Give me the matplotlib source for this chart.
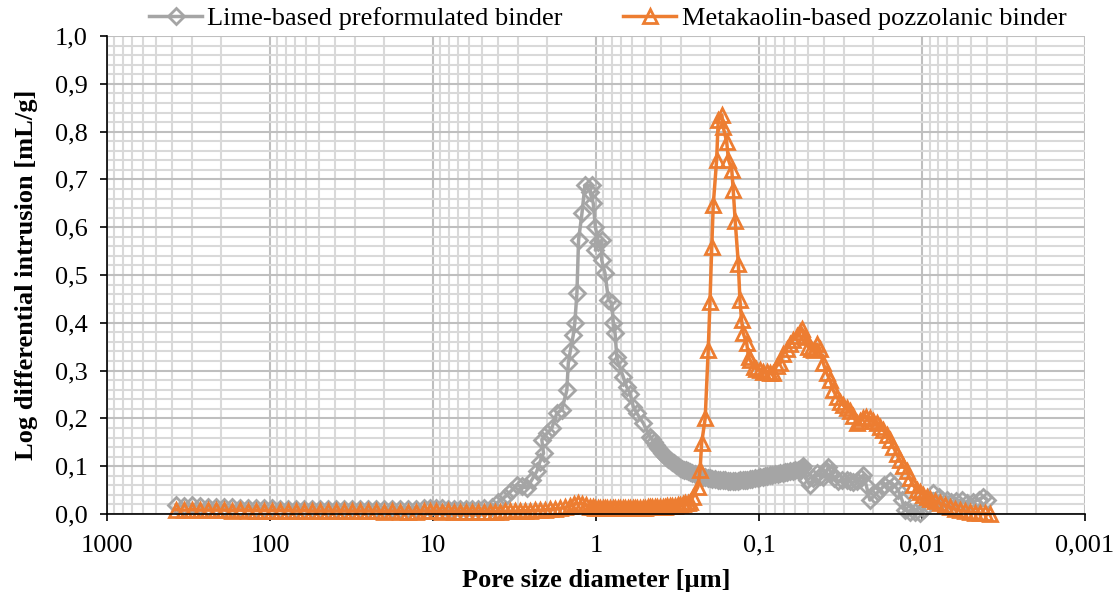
import matplotlib
matplotlib.use('Agg')
import matplotlib.pyplot as plt
from matplotlib.ticker import LogLocator, FixedLocator, NullFormatter

plt.rcParams['font.family'] = ['Liberation Serif', 'DejaVu Serif']

# Lime-based preformulated binder: pore diameter [um] and log differential intrusion [mL/g]
lime_d = [377, 337, 301, 269, 240, 214, 191, 171, 153, 136, 122, 109, 97.2, 86.8, 77.6, 69.2,
          61.8, 55.2, 49.3, 44.0, 39.4, 35.2, 31.4, 28.1, 25.1, 22.4, 20.0, 17.9, 15.9, 14.2,
          12.7, 11.4, 10.4, 9.59, 8.81, 8.09, 7.43, 6.82, 6.28, 5.77, 5.30, 4.87,
          4.36, 3.99, 3.61, 3.32, 3.06, 2.84, 2.66, 2.48, 2.31, 2.21, 2.10, 2.15, 2.00, 1.87,
          1.74, 1.62, 1.51, 1.48, 1.44, 1.38, 1.35, 1.31, 1.28, 1.22, 1.17, 1.06, 1.09, 1.04,
          1.01, 0.968, 1.01, 0.923, 0.923, 0.881, 0.839, 0.801, 0.783, 0.764, 0.746, 0.730,
          0.681, 0.649, 0.618, 0.590, 0.562, 0.513,
          0.467, 0.454, 0.441, 0.429, 0.417, 0.405, 0.394, 0.383, 0.372, 0.362,
          0.352, 0.342, 0.332, 0.323, 0.314, 0.305, 0.297, 0.288, 0.280, 0.272,
          0.265, 0.256, 0.247, 0.238, 0.230, 0.222, 0.214, 0.207, 0.200, 0.193,
          0.186, 0.179, 0.173, 0.167, 0.162, 0.156, 0.151, 0.145, 0.140, 0.135,
          0.131, 0.126, 0.122, 0.118, 0.1135, 0.110, 0.106, 0.102, 0.0986, 0.0952,
          0.0919, 0.0888, 0.0857, 0.0827, 0.0798, 0.077, 0.0743, 0.0717, 0.0692, 0.0669,
          0.0646, 0.0623, 0.0601, 0.058, 0.0560, 0.0548, 0.0537,
          0.0511, 0.0486, 0.0465, 0.0443, 0.0420, 0.0403, 0.0385, 0.0376, 0.036, 0.0345,
          0.0326, 0.031, 0.0290, 0.0277, 0.0265, 0.025, 0.0238, 0.0229, 0.022, 0.0209,
          0.0195, 0.0181, 0.017, 0.0157, 0.0148, 0.0140, 0.0133, 0.0127, 0.0118, 0.011,
          0.0103, 0.0097, 0.0091, 0.00853, 0.0079, 0.0075, 0.00706, 0.0066, 0.0062, 0.00571,
          0.0053, 0.0049, 0.0045, 0.00421, 0.0040]
lime_v = [0.018, 0.016, 0.018, 0.016, 0.015, 0.015, 0.014, 0.014, 0.013, 0.013, 0.012, 0.012,
          0.012, 0.011, 0.011, 0.011, 0.011, 0.010, 0.010, 0.010, 0.010, 0.010, 0.010, 0.010,
          0.010, 0.010, 0.010, 0.010, 0.011, 0.011, 0.011, 0.012, 0.012, 0.012, 0.012, 0.011,
          0.011, 0.011, 0.011, 0.011, 0.011, 0.012,
          0.015, 0.025, 0.036, 0.048, 0.061, 0.058, 0.054, 0.071, 0.089, 0.109, 0.127, 0.155,
          0.169, 0.179, 0.211, 0.218, 0.259, 0.315, 0.340, 0.374, 0.399, 0.462, 0.573, 0.629,
          0.688, 0.688, 0.674, 0.650, 0.601, 0.570, 0.552, 0.573, 0.531, 0.504, 0.448, 0.441,
          0.399, 0.378, 0.329, 0.315, 0.287, 0.266, 0.252, 0.224, 0.211, 0.190,
          0.162, 0.156, 0.150, 0.144, 0.138, 0.133, 0.128, 0.124, 0.120, 0.116,
          0.113, 0.109, 0.106, 0.103, 0.100, 0.097, 0.095, 0.093, 0.091, 0.089,
          0.087, 0.085, 0.083, 0.081, 0.080, 0.078, 0.077, 0.076, 0.075, 0.074,
          0.073, 0.072, 0.072, 0.071, 0.071, 0.070, 0.070, 0.070, 0.070, 0.070,
          0.071, 0.071, 0.072, 0.072, 0.073, 0.074, 0.075, 0.076, 0.077, 0.078,
          0.079, 0.080, 0.081, 0.082, 0.083, 0.084, 0.085, 0.086, 0.087, 0.088,
          0.089, 0.090, 0.092, 0.093, 0.095, 0.097, 0.100,
          0.071, 0.060, 0.075, 0.085, 0.080, 0.078, 0.090, 0.099, 0.085, 0.075,
          0.068, 0.072, 0.071, 0.068, 0.066, 0.070, 0.075, 0.082, 0.060, 0.029,
          0.040, 0.050, 0.060, 0.068, 0.060, 0.050, 0.030, 0.008, 0.005, 0.004,
          0.001, 0.010, 0.030, 0.043, 0.035, 0.030, 0.029, 0.025, 0.027, 0.029,
          0.022, 0.025, 0.030, 0.036, 0.030]

# Metakaolin-based pozzolanic binder
meta_d = [377, 337, 301, 269, 240, 214, 191, 171, 153, 136, 122, 109, 97.2, 86.8, 77.6, 69.2,
          61.8, 55.2, 49.3, 44.0, 39.4, 35.2, 31.4, 28.1, 25.1, 22.4, 20.0, 17.9, 15.9, 14.2,
          12.7, 11.4, 10.4, 9.59, 8.81, 8.09, 7.43, 6.82, 6.28, 5.77, 5.30, 4.87,
          4.47, 4.17, 3.88, 3.61, 3.37, 3.14, 2.93, 2.73, 2.54, 2.37, 2.21, 2.06, 1.92, 1.79,
          1.66, 1.55, 1.44, 1.37, 1.29, 1.22, 1.15,
          1.09, 1.05, 1.01, 0.976, 0.944, 0.912, 0.881, 0.851, 0.821, 0.792,
          0.764, 0.738, 0.713, 0.688, 0.664, 0.641, 0.618, 0.597, 0.577, 0.557,
          0.537, 0.518, 0.500, 0.483, 0.467, 0.451, 0.435, 0.420, 0.405, 0.391,
          0.378, 0.365, 0.352, 0.340, 0.328, 0.316, 0.305, 0.294, 0.284, 0.274, 0.265,
          0.254, 0.237, 0.230, 0.225, 0.214, 0.205, 0.200, 0.195, 0.191, 0.182, 0.178, 0.169,
          0.166, 0.158, 0.154, 0.147, 0.144, 0.140, 0.134, 0.131, 0.128, 0.125, 0.119, 0.116,
          0.1135, 0.108, 0.104, 0.0986, 0.0944, 0.0897, 0.0857, 0.0817, 0.078, 0.0743, 0.0713,
          0.0676, 0.0646, 0.0618, 0.0587, 0.056, 0.0545, 0.0522, 0.050, 0.048, 0.046, 0.044,
          0.0423, 0.0403, 0.0385, 0.0367, 0.0352, 0.0334, 0.0318, 0.0304, 0.029, 0.0277,
          0.0264, 0.0252, 0.0240, 0.0230, 0.0221, 0.0209, 0.020, 0.0190, 0.0181, 0.0173,
          0.0165, 0.0157, 0.0150, 0.0143, 0.0136, 0.0130, 0.0124, 0.0119, 0.0113, 0.0108,
          0.0103, 0.0098, 0.00935, 0.00893, 0.00832, 0.00776, 0.00723, 0.00673, 0.00628,
          0.00585, 0.00545, 0.00508, 0.00473, 0.00441, 0.00410, 0.00383]
meta_v = [0.009, 0.008, 0.009, 0.008, 0.008, 0.008, 0.008, 0.007, 0.008, 0.007, 0.007, 0.007,
          0.007, 0.007, 0.007, 0.006, 0.007, 0.006, 0.006, 0.006, 0.006, 0.006, 0.006, 0.006,
          0.006, 0.006, 0.005, 0.006, 0.005, 0.005, 0.005, 0.006, 0.006, 0.006, 0.005, 0.006,
          0.005, 0.005, 0.005, 0.005, 0.005, 0.005,
          0.005, 0.005, 0.005, 0.006, 0.006, 0.006, 0.007, 0.007, 0.007, 0.008, 0.008, 0.009,
          0.010, 0.011, 0.012, 0.014, 0.017, 0.020, 0.022, 0.021, 0.018,
          0.015, 0.014, 0.013, 0.013, 0.012, 0.012, 0.012, 0.012, 0.012, 0.012,
          0.012, 0.012, 0.012, 0.012, 0.013, 0.013, 0.013, 0.013, 0.013, 0.013,
          0.013, 0.013, 0.013, 0.014, 0.014, 0.014, 0.014, 0.015, 0.015, 0.015,
          0.015, 0.016, 0.016, 0.017, 0.017, 0.018, 0.018, 0.020, 0.022, 0.024, 0.026,
          0.036, 0.057, 0.092, 0.148, 0.200, 0.343, 0.444, 0.559, 0.646, 0.741, 0.824, 0.835,
          0.810, 0.779, 0.741, 0.720, 0.678, 0.612, 0.524, 0.448, 0.406, 0.378, 0.357, 0.329,
          0.322, 0.308, 0.303, 0.301, 0.298, 0.298, 0.296, 0.294, 0.310, 0.315, 0.335,
          0.345, 0.355, 0.365, 0.372, 0.380, 0.386, 0.370, 0.350, 0.345, 0.343, 0.355,
          0.345, 0.315, 0.295, 0.280, 0.260, 0.245, 0.235, 0.227, 0.222, 0.215,
          0.205, 0.190, 0.195, 0.200, 0.203, 0.200, 0.195, 0.190, 0.183, 0.175,
          0.165, 0.155, 0.140, 0.125, 0.112, 0.100, 0.090, 0.075, 0.060, 0.050,
          0.045, 0.040, 0.036, 0.032, 0.027, 0.022, 0.018, 0.014, 0.010,
          0.008, 0.006, 0.004, 0.003, 0.002, 0.001, 0.000]

x_ticks = [1000, 100, 10, 1, 0.1, 0.01, 0.001]
x_labels = ['1000', '100', '10', '1', '0,1', '0,01', '0,001']
y_ticks = [0.0, 0.1, 0.2, 0.3, 0.4, 0.5, 0.6, 0.7, 0.8, 0.9, 1.0]

fig = plt.figure(figsize=(11.17, 6.01), dpi=100)
ax = fig.add_axes([0.0958, 0.1448, 0.8756, 0.7952])

ax.plot(lime_d, lime_v, color='#A5A5A5', lw=2.5, marker='D', ms=8, mfc='none',
        mew=2.0, label='Lime-based preformulated binder', clip_on=False)
ax.plot(meta_d, meta_v, color='#ED7D31', lw=2.5, marker='^', ms=10, mfc='none',
        mew=2.0, label='Metakaolin-based pozzolanic binder', clip_on=False)

ax.set_xscale('log')
ax.set_xlim(1000, 0.001)
ax.set_ylim(0, 1.0)

ax.xaxis.set_major_locator(FixedLocator(x_ticks))
ax.set_xticklabels(x_labels)
ax.xaxis.set_minor_locator(LogLocator(base=10, subs=range(2, 10), numticks=20))
ax.xaxis.set_minor_formatter(NullFormatter())
ax.set_yticks(y_ticks)
ax.set_yticklabels([f'{v:.1f}'.replace('.', ',') for v in y_ticks])
ax.yaxis.set_minor_locator(FixedLocator([i / 50 for i in range(51)]))

ax.grid(which='major', color='#BFBFBF', lw=1.5)
ax.grid(which='minor', color='#D9D9D9', lw=1.5)
ax.set_axisbelow(True)

ax.tick_params(which='major', direction='out', length=5, width=1.2, labelsize=19)
ax.tick_params(axis='x', which='major', pad=10)
ax.tick_params(axis='y', which='major', pad=9)
ax.tick_params(which='minor', length=0)
for s in ['top', 'right']:
    ax.spines[s].set_visible(False)
for s in ['left', 'bottom']:
    ax.spines[s].set_linewidth(1.2)

ax.set_xlabel('Pore size diameter [µm]', fontsize=19, fontweight='bold', labelpad=9)
ax.set_ylabel('Log differential intrusion [mL/g]', fontsize=19, fontweight='bold', labelpad=12)

ax.legend(loc='lower center', bbox_to_anchor=(0.512, 0.99), ncol=2, frameon=False,
          fontsize=19, handlelength=2.0, columnspacing=2.3, handletextpad=0.2,
          borderaxespad=0.0)

fig.savefig('out.png', dpi=100)
